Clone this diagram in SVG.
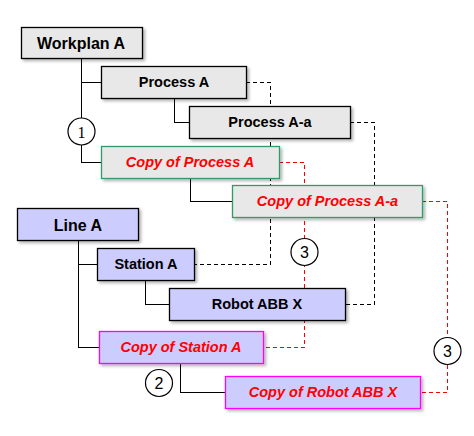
<svg xmlns="http://www.w3.org/2000/svg" width="474" height="436" viewBox="0 0 474 436">
<defs>
<filter id="sh" x="-10%" y="-20%" width="130%" height="160%">
<feDropShadow dx="2" dy="2" stdDeviation="1.5" flood-color="#000" flood-opacity="0.3"/>
</filter>
<style>
.g{fill:#e8e8e8;stroke:#000;stroke-width:1.3}
.gc{fill:#e8e8e8;stroke:#33996a;stroke-width:1.3}
.b{fill:#ccccff;stroke:#000;stroke-width:1.3}
.bc{fill:#ccccff;stroke:#ff00ff;stroke-width:1.3}
.t{font-family:"Liberation Sans",Arial,sans-serif;font-weight:bold;font-size:14.5px;fill:#000;text-anchor:middle}
.tl{font-size:16px}
.tc{font-style:italic;fill:#ff0000}
.c{fill:#fff;stroke:#000;stroke-width:1.2}
.n{font-family:"Liberation Sans",Arial,sans-serif;font-size:16px;fill:#000;text-anchor:middle}
.ns{font-family:"Liberation Serif","Times New Roman",serif}
.s{fill:none;stroke:#000;stroke-width:1}
.d{fill:none;stroke:#000;stroke-width:1;stroke-dasharray:4 3}
.r{fill:none;stroke:#ff0000;stroke-width:1;stroke-dasharray:4 3}
</style>
</defs>
<rect width="474" height="436" fill="#fff"/>
<g id="connectors" shape-rendering="crispEdges">
<path class="d" d="M246,82.5 H270.5 V264.5 H194"/>
<path class="d" d="M350,122.5 H374.5 V304.5 H345"/>
<path class="r" d="M279,162.5 H304.5 V347.5 H263"/>
<path class="r" d="M422,201.5 H447.5 V392.5 H420"/>
<path class="s" d="M81.5,58 V162.5 H101 M81.5,82.5 H101"/>
<path class="s" d="M174.5,98 V122.5 H189"/>
<path class="s" d="M190.5,178 V201.5 H232"/>
<path class="s" d="M78.5,240 V347.5 H99 M78.5,264.5 H97"/>
<path class="s" d="M145.5,280 V304.5 H169"/>
<path class="s" d="M180.5,363 V392.5 H225"/>
</g>
<g id="workplan-a"><rect class="g" x="21.5" y="27.5" width="121" height="31" filter="url(#sh)"/><text class="t tl" x="81" y="49">Workplan A</text></g>
<g id="process-a"><rect class="g" x="101.5" y="66.5" width="145" height="32" filter="url(#sh)"/><text class="t" x="174" y="87">Process A</text></g>
<g id="process-a-a"><rect class="g" x="189.5" y="106.5" width="161" height="32" filter="url(#sh)"/><text class="t" x="270" y="127">Process A-a</text></g>
<g id="copy-process-a"><rect class="gc" x="101.5" y="146.5" width="178" height="32" filter="url(#sh)"/><text class="t tc" x="190" y="167">Copy of Process A</text></g>
<g id="copy-process-a-a"><rect class="gc" x="232.5" y="185.5" width="190" height="32" filter="url(#sh)"/><text class="t tc" x="327.5" y="206">Copy of Process A-a</text></g>
<g id="line-a"><rect class="b" x="17.5" y="208.5" width="121" height="32" filter="url(#sh)"/><text class="t tl" x="78" y="231">Line A</text></g>
<g id="station-a"><rect class="b" x="97.5" y="248.5" width="97" height="32" filter="url(#sh)"/><text class="t" x="146" y="269">Station A</text></g>
<g id="robot-abb-x"><rect class="b" x="169.5" y="288.5" width="176" height="32" filter="url(#sh)"/><text class="t" x="257" y="309">Robot ABB X</text></g>
<g id="copy-station-a"><rect class="bc" x="99.5" y="331.5" width="164" height="32" filter="url(#sh)"/><text class="t tc" x="181" y="352">Copy of Station A</text></g>
<g id="copy-robot-abb-x"><rect class="bc" x="225.5" y="376.5" width="195" height="32" filter="url(#sh)"/><text class="t tc" x="323" y="397">Copy of Robot ABB X</text></g>
<g id="marker-1"><circle class="c" cx="81.5" cy="131.5" r="13.5"/><text class="n ns" x="81.5" y="137.5">1</text></g>
<g id="marker-2"><circle class="c" cx="159" cy="383" r="13.5"/><text class="n" x="159" y="389">2</text></g>
<g id="marker-3a"><circle class="c" cx="304.5" cy="252" r="13.5"/><text class="n" x="304.5" y="258">3</text></g>
<g id="marker-3b"><circle class="c" cx="447.5" cy="351" r="13.5"/><text class="n" x="447.5" y="357">3</text></g>
</svg>
